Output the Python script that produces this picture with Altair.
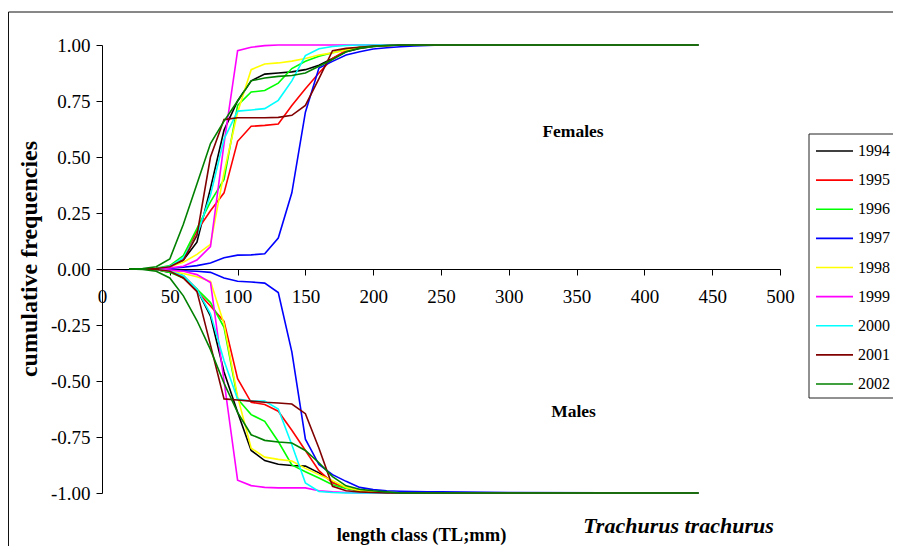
import altair as alt
import pandas as pd

SERIF = "Liberation Serif"

# ---- data ----
lengths = [20, 30, 40, 50, 60, 70, 80, 90, 100, 110,
           120, 130, 140, 150, 160, 170, 180, 190, 200, 210,
           220, 230, 240, 250, 300, 440]

years = ["1994", "1995", "1996", "1997", "1998", "1999", "2000", "2001", "2002"]
colors = ["#000000", "#FF0000", "#00FF00", "#0000FF", "#FFFF00",
          "#FF00FF", "#00FFFF", "#800000", "#008000"]

females = {
    "1994": [0, 0, 0.002, 0.01, 0.04, 0.12, 0.36, 0.62, 0.75, 0.84,
             0.87, 0.875, 0.88, 0.89, 0.91, 0.94, 0.97, 0.985, 0.993, 0.997,
             1, 1, 1, 1, 1, 1],
    "1995": [0, 0, 0.002, 0.01, 0.04, 0.17, 0.26, 0.34, 0.57, 0.637,
             0.641, 0.647, 0.73, 0.805, 0.875, 0.94, 0.975, 0.99, 0.995, 0.998,
             1, 1, 1, 1, 1, 1],
    "1996": [0, 0, 0.003, 0.015, 0.06, 0.18, 0.30, 0.40, 0.73, 0.79,
             0.797, 0.83, 0.895, 0.927, 0.95, 0.965, 0.98, 0.99, 0.995, 0.998,
             1, 1, 1, 1, 1, 1],
    "1997": [0, 0, 0.001, 0.003, 0.008, 0.015, 0.027, 0.05, 0.062, 0.063,
             0.068, 0.138, 0.34, 0.70, 0.897, 0.927, 0.955, 0.97, 0.982, 0.988,
             0.992, 0.996, 0.998, 1, 1, 1],
    "1998": [0, 0, 0.001, 0.01, 0.03, 0.065, 0.11, 0.43, 0.70, 0.89,
             0.915, 0.92, 0.928, 0.94, 0.955, 0.965, 0.978, 0.988, 0.995, 0.998,
             1, 1, 1, 1, 1, 1],
    "1999": [0, 0, 0.001, 0.005, 0.012, 0.04, 0.10, 0.56, 0.975, 0.99,
             0.997, 1, 1, 1, 1, 1, 1, 1, 1, 1,
             1, 1, 1, 1, 1, 1],
    "2000": [0, 0, 0.002, 0.012, 0.05, 0.15, 0.33, 0.58, 0.705, 0.71,
             0.716, 0.753, 0.84, 0.953, 0.983, 0.993, 0.998, 1, 1, 1,
             1, 1, 1, 1, 1, 1],
    "2001": [0, 0, 0.002, 0.01, 0.04, 0.15, 0.50, 0.667, 0.675, 0.675,
             0.675, 0.677, 0.686, 0.73, 0.85, 0.975, 0.985, 0.99, 0.995, 0.998,
             1, 1, 1, 1, 1, 1],
    "2002": [0, 0.002, 0.01, 0.045, 0.20, 0.38, 0.56, 0.66, 0.75, 0.84,
             0.853, 0.86, 0.864, 0.875, 0.905, 0.935, 0.97, 0.986, 0.994, 0.998,
             1, 1, 1, 1, 1, 1],
}

males = {
    "1994": [0, 0, -0.002, -0.015, -0.03, -0.09, -0.21, -0.46, -0.64, -0.81,
             -0.855, -0.872, -0.877, -0.88, -0.91, -0.948, -0.978, -0.99, -0.995, -0.998,
             -1, -1, -1, -1, -1, -1],
    "1995": [0, 0, -0.002, -0.01, -0.04, -0.10, -0.165, -0.234, -0.49, -0.595,
             -0.605, -0.635, -0.72, -0.81, -0.90, -0.955, -0.978, -0.99, -0.995, -0.998,
             -1, -1, -1, -1, -1, -1],
    "1996": [0, 0, -0.002, -0.015, -0.04, -0.09, -0.15, -0.26, -0.58, -0.65,
             -0.68, -0.77, -0.875, -0.905, -0.933, -0.963, -0.98, -0.99, -0.995, -0.998,
             -1, -1, -1, -1, -1, -1],
    "1997": [0, 0, -0.002, -0.005, -0.008, -0.01, -0.015, -0.04, -0.055, -0.058,
             -0.063, -0.105, -0.37, -0.76, -0.873, -0.918, -0.948, -0.975, -0.985, -0.99,
             -0.992, -0.994, -0.995, -0.995, -0.998, -1],
    "1998": [0, 0, -0.002, -0.01, -0.02, -0.035, -0.055, -0.245, -0.57, -0.80,
             -0.84, -0.85, -0.857, -0.89, -0.918, -0.945, -0.975, -0.99, -0.995, -0.998,
             -1, -1, -1, -1, -1, -1],
    "1999": [0, 0, -0.001, -0.005, -0.01, -0.025, -0.06, -0.50, -0.943, -0.967,
             -0.975, -0.977, -0.977, -0.977, -0.99, -0.995, -0.998, -1, -1, -1,
             -1, -1, -1, -1, -1, -1],
    "2000": [0, 0, -0.002, -0.01, -0.03, -0.09, -0.20, -0.41, -0.58, -0.59,
             -0.59, -0.625, -0.785, -0.955, -0.993, -0.998, -1, -1, -1, -1,
             -1, -1, -1, -1, -1, -1],
    "2001": [0, 0, -0.002, -0.01, -0.04, -0.10, -0.34, -0.58, -0.585, -0.59,
             -0.595, -0.598, -0.603, -0.646, -0.80, -0.97, -0.99, -0.995, -0.998, -1,
             -1, -1, -1, -1, -1, -1],
    "2002": [0, -0.002, -0.01, -0.04, -0.12, -0.23, -0.36, -0.51, -0.64, -0.74,
             -0.765, -0.772, -0.777, -0.81, -0.865, -0.927, -0.968, -0.983, -0.99, -0.995,
             -1, -1, -1, -1, -1, -1],
}

x_ticks = [0, 50, 100, 150, 200, 250, 300, 350, 400, 450, 500]
y_ticks = [-1, -0.75, -0.5, -0.25, 0, 0.25, 0.5, 0.75, 1]

y_title = "cumulative frequencies"
x_title = "length class (TL;mm)"
species = "Trachurus trachurus"
panel_labels = ["Females", "Males"]

# ---- build table ----
rows = []
for yr in years:
    for sex, src in ((panel_labels[0], females), (panel_labels[1], males)):
        for L, v in zip(lengths, src[yr]):
            rows.append({"year": yr, "sex": sex, "length": L, "freq": v})
df = pd.DataFrame(rows)

color_scale = alt.Scale(domain=years, range=colors)
W, H = 678, 448
PAD_L, PAD_T = 94, 37
TOTAL_W, TOTAL_H = 885, 538

lines = alt.Chart(df).mark_line(strokeWidth=1.6).encode(
    x=alt.X("length:Q",
            scale=alt.Scale(domain=[0, 500], nice=False, zero=False),
            axis=alt.Axis(values=x_ticks, offset=-H / 2, tickSize=6, title=None,
                          labelFont=SERIF, labelFontSize=19, labelPadding=12,
                          labelColor="black", domainColor="black", tickColor="black",
                          labelFlush=False, labelOverlap=False, grid=False)),
    y=alt.Y("freq:Q",
            scale=alt.Scale(domain=[-1, 1], nice=False),
            axis=alt.Axis(values=y_ticks, tickSize=6, title=None,
                          labelExpr="datum.value < 0 ? '-' + format(-datum.value, '.2f') : format(datum.value, '.2f')",
                          labelFont=SERIF, labelFontSize=19, labelPadding=6,
                          labelColor="black", domainColor="black", tickColor="black",
                          labelFlush=False, labelOverlap=False, grid=False)),
    color=alt.Color("year:N", scale=color_scale, legend=None),
    detail="sex:N",
)

one = pd.DataFrame({"k": [0]})

frame = alt.Chart(one).mark_rect(fillOpacity=0, stroke="#111111", strokeWidth=1).encode(
    x=alt.value(-93.5), x2=alt.value(900), y=alt.value(-33), y2=alt.value(600))

box = alt.Chart(one).mark_rect(fill="white", stroke="#222222", strokeWidth=1).encode(
    x=alt.value(707), x2=alt.value(900), y=alt.value(89), y2=alt.value(353))

leg_df = pd.DataFrame({"year": years})
leg_y = alt.Y("year:N", scale=alt.Scale(type="point", domain=years, range=[106, 339], padding=0), axis=None)
leg_lines = alt.Chart(leg_df).mark_rule(strokeWidth=1.6).encode(
    x=alt.value(714), x2=alt.value(751), y=leg_y,
    color=alt.Color("year:N", scale=color_scale, legend=None))
leg_text = alt.Chart(leg_df).mark_text(align="left", baseline="middle", font=SERIF,
                                       fontSize=16, color="black").encode(
    x=alt.value(756), y=leg_y, text="year:N")


def label(text, x, y, size, style="normal", angle=0):
    return alt.Chart(pd.DataFrame({"t": [text]})).mark_text(
        font=SERIF, fontSize=size, fontWeight="bold", fontStyle=style, angle=angle,
        align="center", baseline="middle", color="black").encode(
        text="t:N", x=alt.value(x), y=alt.value(y))


texts = [
    label(panel_labels[0], 471, 87, 17.5),
    label(panel_labels[1], 471.5, 367, 17.5),
    label(y_title, -72, 214, 24, angle=270),
    label(x_title, 319.5, 490, 18.5),
    label(species, 576.5, 481, 22, style="italic"),
]

chart = alt.layer(frame, lines, box, leg_lines, leg_text, *texts).resolve_scale(
    y="independent"
).properties(
    width=W, height=H,
    autosize=alt.AutoSizeParams(type="none"),
    padding={"left": PAD_L, "top": PAD_T,
             "right": TOTAL_W - PAD_L - W, "bottom": TOTAL_H - PAD_T - H},
    background="white",
).configure_view(stroke=None)

chart.save("out.html", embed_options={"renderer": "svg", "actions": False})
